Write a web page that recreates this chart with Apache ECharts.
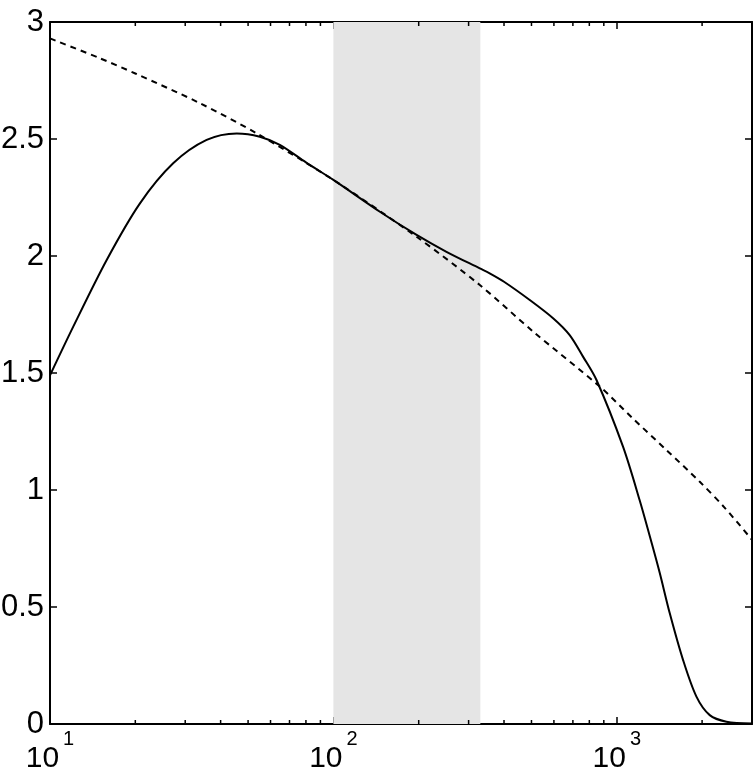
<!DOCTYPE html>
<html>
<head>
<meta charset="utf-8">
<script src="https://cdn.jsdelivr.net/npm/echarts@6/dist/echarts.min.js"></script>
<style>
html,body{margin:0;padding:0;background:#fff;}
#chart{width:756px;height:770px;}
</style>
</head>
<body>
<div id="chart"></div>
<script>
// ---- data ----
const solidX = [10, 12.08, 15.85, 20.77, 27.2, 35.7, 45.6, 55, 64.7, 80, 100, 145.9, 196.6, 250.6, 328.6, 356, 400, 493, 596, 682, 760, 848, 1052, 1205, 1330, 1418, 1538, 1714, 1910, 2128, 2437, 3000];
const solidY = [1.49, 1.698, 1.983, 2.225, 2.396, 2.496, 2.524, 2.51, 2.475, 2.40, 2.325, 2.189, 2.09, 2.018, 1.947, 1.926, 1.89, 1.812, 1.734, 1.662, 1.57, 1.47, 1.185, 0.955, 0.77, 0.645, 0.473, 0.273, 0.117, 0.038, 0.01, 0.002];
const dashX = [10, 15, 20, 33.8, 53.6, 100, 196.6, 328.6, 507, 871, 1141, 1496, 1963, 2400, 3000];
const dashY = [2.93, 2.845, 2.78, 2.653, 2.524, 2.325, 2.082, 1.876, 1.677, 1.442, 1.305, 1.171, 1.035, 0.925, 0.787];
const bandRange = [100, 330];
const xMin = 10, xMax = 3000;
const yMin = 0, yMax = 3, yStep = 0.5;
const xMajorTicks = [10, 100, 1000];
const xMinorTicks = [20, 30, 40, 50, 60, 70, 80, 90, 200, 300, 400, 500, 600, 700, 800, 900, 2000, 3000];

const zip = (a, b) => a.map((v, i) => [v, b[i]]);
const FONT = 'Liberation Sans';

const chart = echarts.init(document.getElementById('chart'), null, {renderer: 'canvas'});

const axisLineStyle = {color: '#000', width: 2};
const majorTick = {show: true, inside: true, length: 7, lineStyle: {color: '#000', width: 1.5}};

const option = {
  animation: false,
  backgroundColor: '#fff',
  grid: {left: 50, right: 4, top: 22, bottom: 46, containLabel: false, outerBoundsMode: 'none'},
  xAxis: [
    {
      type: 'log', logBase: 10, min: xMin, max: xMax, position: 'bottom',
      axisLine: {show: true, onZero: false, lineStyle: axisLineStyle},
      axisTick: majorTick,
      splitLine: {show: false},
      axisLabel: {
        margin: 5,
        fontSize: 30,
        fontFamily: FONT,
        color: '#000',
        hideOverlap: false,
        formatter: function (v) {
          const e = Math.round(Math.log10(v));
          if (Math.abs(Math.pow(10, e) - v) > 1e-6 * v) return '';
          if (xMajorTicks.indexOf(Math.pow(10, e)) < 0) return '';
          return '{b|10}{s|' + e + '}';
        },
        rich: {
          b: {fontSize: 30, fontFamily: FONT, color: '#000', lineHeight: 45, verticalAlign: 'bottom'},
          s: {fontSize: 20, fontFamily: FONT, color: '#000', lineHeight: 12, verticalAlign: 'top', padding: [0, 0, 0, 4]}
        }
      }
    },
    {
      type: 'log', logBase: 10, min: xMin, max: xMax, position: 'top',
      axisLine: {show: true, onZero: false, lineStyle: axisLineStyle},
      axisTick: majorTick,
      axisLabel: {show: false},
      splitLine: {show: false}
    }
  ],
  yAxis: [
    {
      type: 'value', min: yMin, max: yMax, interval: yStep, position: 'left',
      axisLine: {show: true, onZero: false, lineStyle: axisLineStyle},
      axisTick: majorTick,
      splitLine: {show: false},
      axisLabel: {
        margin: 6, fontSize: 31, fontFamily: FONT, color: '#000',
        formatter: v => String(v)
      }
    },
    {
      type: 'value', min: yMin, max: yMax, interval: yStep, position: 'right',
      axisLine: {show: true, onZero: false, lineStyle: axisLineStyle},
      axisTick: majorTick,
      axisLabel: {show: false},
      splitLine: {show: false}
    }
  ],
  series: [
    {
      name: 'band', type: 'line', data: [], silent: true, z: 1,
      markArea: {
        silent: true,
        itemStyle: {color: '#e5e5e5'},
        data: [[{xAxis: bandRange[0]}, {xAxis: bandRange[1]}]]
      }
    },
    {
      name: 'dashed', type: 'line', data: zip(dashX, dashY), showSymbol: false, symbol: 'none',
      smooth: 0.3, z: 3,
      lineStyle: {color: '#000', width: 2, type: [6, 5]}
    },
    {
      name: 'solid', type: 'line', data: zip(solidX, solidY), showSymbol: false, symbol: 'none',
      smooth: 0.3, z: 4,
      lineStyle: {color: '#000', width: 2}
    },
    {
      name: 'minorTicks', type: 'custom', silent: true, z: 5, clip: false,
      data: xMinorTicks.map(v => [v, yMin]),
      renderItem: function (params, api) {
        const v = api.value(0);
        const pb = api.coord([v, yMin]);
        const pt = api.coord([v, yMax]);
        const st = {stroke: '#000', lineWidth: 1.5};
        return {
          type: 'group',
          children: [
            {type: 'line', shape: {x1: pb[0], y1: pb[1], x2: pb[0], y2: pb[1] - 4}, style: st},
            {type: 'line', shape: {x1: pt[0], y1: pt[1], x2: pt[0], y2: pt[1] + 4}, style: st}
          ]
        };
      }
    }
  ]
};
chart.setOption(option);
</script>
</body>
</html>
